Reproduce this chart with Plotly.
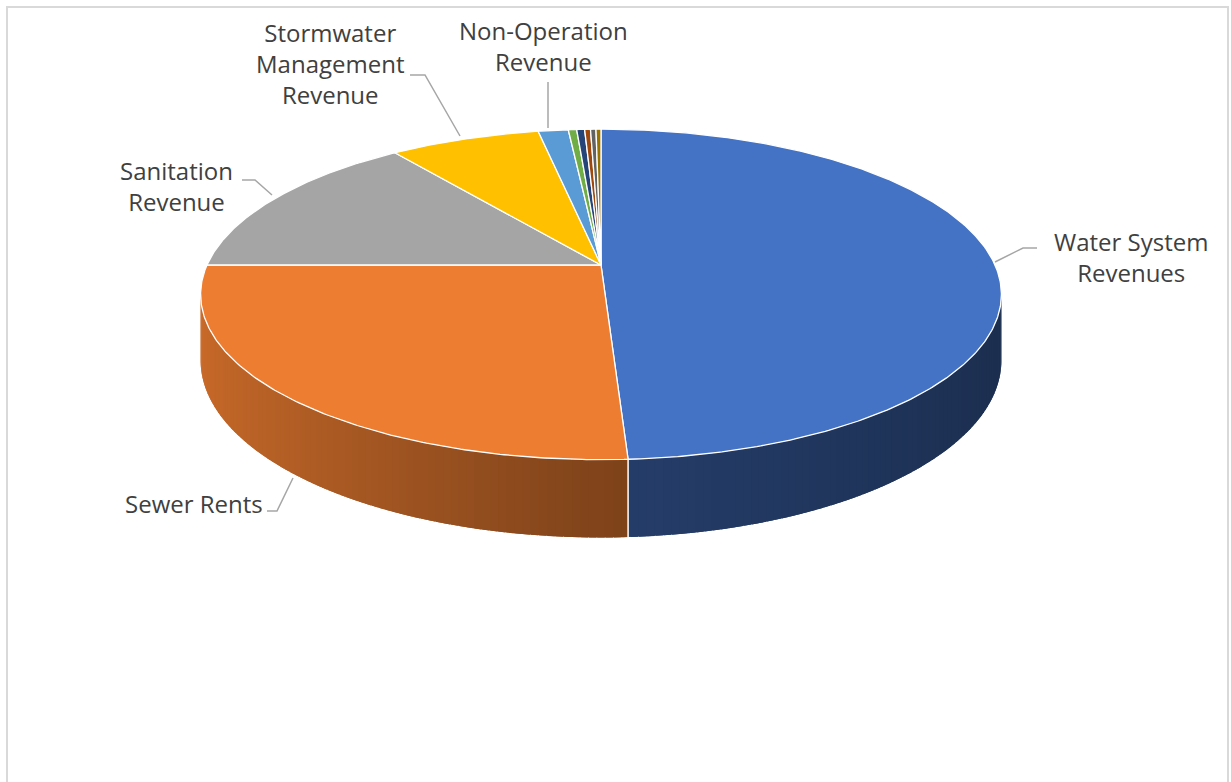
import numpy as np
import plotly.graph_objects as go

# Revenue categories and their share of the total (percent)
categories = [
    "Water System Revenues",
    "Sewer Rents",
    "Sanitation Revenue",
    "Stormwater Management Revenue",
    "Non-Operation Revenue",
    "Other A",
    "Other B",
    "Other C",
    "Other D",
    "Other E",
]
shares = [49.1, 25.9, 14.8, 7.2, 1.44, 0.40, 0.38, 0.28, 0.26, 0.24]
colors = [
    "#4472C4", "#ED7D31", "#A5A5A5", "#FFC000", "#5B9BD5",
    "#70AD47", "#264478", "#9E480E", "#636363", "#997300",
]
# Text shown next to the labelled slices
label_lines = {
    "Water System Revenues": "Water System<br>Revenues",
    "Sewer Rents": "Sewer Rents",
    "Sanitation Revenue": "Sanitation<br>Revenue",
    "Stormwater Management Revenue": "Stormwater<br>Management<br>Revenue",
    "Non-Operation Revenue": "Non-Operation<br>Revenue",
}

# ---- 3-D pie geometry (perspective-tilted disc with a thick rim) ----
CX, CY = 601.0, 265.0      # projected centre of the disc
RX, RY = 394.0, 160.0      # horizontal / vertical radii before perspective
PERSP = 0.178              # perspective strength (far side shrinks)
DEPTH = 64.0               # thickness of the rim


def project(theta_deg, drop=0.0):
    """Project a rim point (clockwise from 12 o'clock) onto the page."""
    t = np.radians(theta_deg)
    X, Z = np.sin(t), np.cos(t)
    w = 1.0 + PERSP * Z
    return CX + RX * X / w, CY - RY * Z / w + drop / w


def shade(hex_color, f):
    h = hex_color.lstrip("#")
    r, g, b = (int(h[i:i + 2], 16) for i in (0, 2, 4))
    return "rgb(%d,%d,%d)" % (round(r * f), round(g * f), round(b * f))


def side_factor(theta_deg):
    s = np.sin(np.radians(theta_deg))
    return 0.54 - 0.31 * s if s < 0 else 0.54 - 0.14 * s


total = float(sum(shares))
edges = np.concatenate([[0.0], np.cumsum(shares) / total * 360.0])

fig = go.Figure()

# ---- rim (side wall) : visible between the two silhouette tangents ----
t_lo = np.degrees(np.arccos(-PERSP))
t_hi = 360.0 - t_lo
grid = list(np.arange(np.ceil(t_lo), t_hi, 1.0))
cuts = [e for e in edges if t_lo < e < t_hi]
pts = sorted(set([t_lo, t_hi] + grid + cuts))

segments = []
for a0, a1 in zip(pts[:-1], pts[1:]):
    mid = 0.5 * (a0 + a1)
    idx = int(np.searchsorted(edges, mid, side="right") - 1)
    segments.append((a0, a1, idx, np.cos(np.radians(mid))))
segments.sort(key=lambda s: -s[3])  # paint far segments first

OVERLAP = 0.45  # degrees; hides anti-aliasing seams between rim strips
for a0, a1, idx, _ in segments:
    lo = max(a0 - OVERLAP, edges[idx], t_lo)
    hi = min(a1 + OVERLAP, edges[idx + 1], t_hi)
    arc = np.linspace(lo, hi, 4)
    xt, yt = project(arc)
    xb, yb = project(arc[::-1], DEPTH)
    col = shade(colors[idx], side_factor(0.5 * (a0 + a1)))
    fig.add_trace(go.Scatter(
        x=np.concatenate([xt, xb, xt[:1]]),
        y=np.concatenate([yt, yb, yt[:1]]),
        mode="lines", fill="toself", fillcolor=col,
        line=dict(width=0),
        hoverinfo="skip", showlegend=False,
    ))

# white seams where slices meet on the visible rim
for e in cuts:
    x0, y0 = project(e)
    x1, y1 = project(e, DEPTH)
    fig.add_trace(go.Scatter(
        x=[x0, x1], y=[y0, y1], mode="lines",
        line=dict(color="white", width=1.5),
        hoverinfo="skip", showlegend=False,
    ))

# ---- top face slices ----
for i, name in enumerate(categories):
    a0, a1 = edges[i], edges[i + 1]
    n = max(3, int((a1 - a0) / 0.5) + 2)
    arc = np.linspace(a0, a1, n)
    ax, ay = project(arc)
    xs = np.concatenate([[CX], ax, [CX]])
    ys = np.concatenate([[CY], ay, [CY]])
    fig.add_trace(go.Scatter(
        x=xs, y=ys, mode="lines", fill="toself", fillcolor=colors[i],
        line=dict(color="white", width=1.3),
        name=name, hoverinfo="skip", showlegend=False,
    ))

# ---- data labels with leader lines ----
label_font = dict(family="Open Sans", size=24, color="#404040")
label_pos = {
    "Water System Revenues": (1131, 257),
    "Sewer Rents": (194, 503),
    "Sanitation Revenue": (176, 186),
    "Stormwater Management Revenue": (330, 63),
    "Non-Operation Revenue": (543, 46),
}
leaders = {
    "Water System Revenues": ([1037, 1023, 995], [248, 248, 262]),
    "Sewer Rents": ([267, 277, 293], [511, 511, 478]),
    "Sanitation Revenue": ([242, 255, 272], [180, 180, 195]),
    "Stormwater Management Revenue": ([410, 425, 460], [75, 75, 136]),
    "Non-Operation Revenue": ([548, 548], [82, 128]),
}
for name, (lx, ly) in leaders.items():
    fig.add_trace(go.Scatter(
        x=lx, y=ly, mode="lines", line=dict(color="#A6A6A6", width=1.5),
        hoverinfo="skip", showlegend=False,
    ))
for name, (tx, ty) in label_pos.items():
    fig.add_annotation(
        x=tx, y=ty, text=label_lines[name], showarrow=False,
        xanchor="center", yanchor="middle", align="center", font=label_font,
    )

# chart-area border
fig.add_shape(type="rect", x0=7, y0=7, x1=1228, y1=800,
              line=dict(color="#D9D9D9", width=2), layer="below")

fig.update_layout(
    width=1231, height=782,
    margin=dict(l=0, r=0, t=0, b=0),
    paper_bgcolor="white", plot_bgcolor="white",
    xaxis=dict(range=[0, 1231], visible=False, fixedrange=True),
    yaxis=dict(range=[782, 0], visible=False, fixedrange=True),
)

fig.write_html("out.html")
